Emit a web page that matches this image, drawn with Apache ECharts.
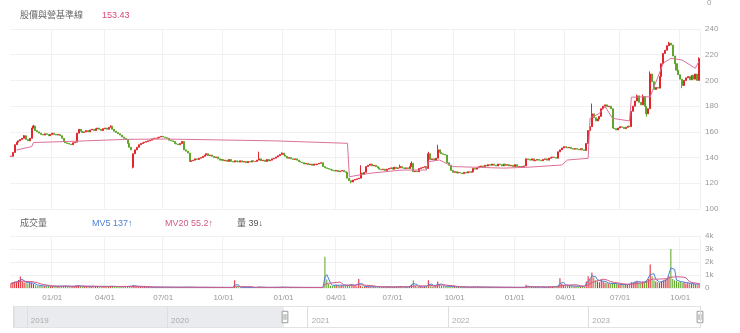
<!DOCTYPE html>
<html>
<head>
<meta charset="utf-8">
<script src="https://cdn.jsdelivr.net/npm/echarts@6/dist/echarts.min.js"></script>
<style>
html,body{margin:0;padding:0;background:#fff;}
#c{width:740px;height:333px;}
</style>
</head>
<body>
<div id="c"></div>
<script>
// ---- calendar (Taiwan exchange holidays in range) ----
const rangeStart = '2020-11-02';
const rangeEnd = '2023-11-02';
const holidays = [
  '2021-01-01','2021-02-08','2021-02-09','2021-02-10','2021-02-11','2021-02-12','2021-02-15','2021-02-16',
  '2021-03-01','2021-04-02','2021-04-05','2021-06-14','2021-09-20','2021-09-21','2021-10-11','2021-12-31',
  '2022-01-27','2022-01-28','2022-01-31','2022-02-01','2022-02-02','2022-02-03','2022-02-04',
  '2022-02-28','2022-04-04','2022-04-05','2022-05-02','2022-06-03','2022-09-09','2022-10-10',
  '2023-01-02','2023-01-18','2023-01-19','2023-01-20','2023-01-23','2023-01-24','2023-01-25','2023-01-26','2023-01-27',
  '2023-02-27','2023-02-28','2023-04-03','2023-04-04','2023-04-05','2023-05-01','2023-06-22','2023-06-23',
  '2023-09-29','2023-10-09','2023-10-10'
];

// one candle per two trading days
const closes = [
  141,144,150,152,153,154,155,157,154,153,
  155,163,164.5,161,160,159,158,157.5,158.5,158,
  157,158,159,158,157.5,158,157,155,152.5,151.5,
  151,150.5,150,151.5,152,159,162,160.5,159.5,160,
  161,160,161.5,162,161,162.5,163,162,161,162.5,
  163,162,163.5,164.5,162,160.5,159.5,158.5,157.5,156,
  155,154,151,148,146,143,146,148,150,151,
  151.5,152,152.5,153,153.5,154.5,155,155,155.5,156,
  156.5,156,155.5,155,153.5,153,152.5,151,150.5,150,
  151,152.5,146,145,143.5,137,137.5,138,139,138.5,
  139.5,140,141,142,143,141.5,142,141,140,140.5,
  139,138,138.5,137.5,138,137,138.5,137,136.5,137.5,
  137,136.5,137.5,136.5,137,136,137,136.5,137.5,137,
  137,138,139,137.5,138,137,138.5,137.5,138,139,
  139.5,140.5,141.5,142.5,143.5,142,141,139.5,140,139,
  138.5,139,138,137,136.5,136,135,135.5,134.5,135,
  134,135,134.5,135,135.5,136,133,132,131.5,131,
  130.5,130,129.5,130,129,129.5,130,129,128.5,124,
  122,121,122.5,123,123.5,124,128,127,128.5,133,
  134,135,133.5,134,133,132,131,130.5,131,130,
  131,131.5,132,131,132.5,131.5,132,133,132,131.5,
  132,131.5,133,135.5,129,129.5,129,131.5,132,132.5,
  133,131.5,143,138.5,139,138,139.5,146,144,143,
  142.5,142,136,134,130,128.5,129,128,128.5,128,
  127.5,128.5,128,129,128.5,129,131.5,131,132,133,
  133.5,133,134,133.5,134.5,134,135,134,133.5,135,
  134.5,133.5,135,134,134.5,133.5,134,133,134.5,133,
  133,132.5,133,133.5,139,138.5,138,139,137.5,138,
  138.5,138,137.5,138.5,139,138,139.5,140,140.5,140,
  139.5,144.5,146,147.5,148.5,148,147.5,148,147,146.5,
  147,146.5,146,147,146,145.5,151,161,164,174,
  171,168.5,170,172,178,180,181,179.5,180,178,
  163,162.5,161.5,163,164,163.5,162.5,163.5,164.5,164,
  176,180,184,188,183,181,187.5,180,174,178,
  205,199,193,194.5,194,203,213,221,223.5,227,
  229,227.5,219,213,208,204.5,201,196,200,202,
  203,200.5,204,201,205,200,217
];
// candles whose open is not the previous close: [index, open]
const openOverrides = [[65,132.5]];
const wickHighs = [[7,157.5],[12,165.5],[53,165],[132,144.6],[144,144],[186,134],[207,134.5],[213,137],
  [222,144.5],[227,150],[309,182],[333,189],[336,189],[340,207],[350,230],[366,218]];
const wickLows = [[65,131.6],[181,120],[338,171.8],[357,194]];

const volumes = [
  350,420,500,460,620,880,520,430,380,330,
  450,400,320,220,180,150,200,130,160,140,
  170,120,150,110,140,160,120,130,180,150,
  140,120,110,130,150,210,180,130,120,150,
  110,130,120,150,100,140,120,110,130,100,
  120,140,110,150,130,100,120,110,90,130,
  110,100,140,160,130,230,140,110,100,90,
  80,70,90,75,60,80,70,65,80,60,
  70,65,55,70,60,50,65,55,60,50,
  55,60,70,60,55,80,60,50,55,45,
  50,55,45,60,50,45,55,40,50,45,
  40,50,45,55,40,45,50,40,45,600,
  90,50,45,40,50,45,40,50,45,40,
  50,45,110,50,45,40,50,45,40,50,
  55,60,50,70,80,55,50,45,50,40,
  45,40,50,45,40,45,50,40,45,40,
  45,50,40,45,40,55,50,2400,650,300,
  180,150,200,260,220,180,240,200,150,260,
  220,280,200,150,120,700,150,110,100,120,
  100,90,110,100,80,90,100,85,80,90,
  80,90,75,85,80,90,85,150,80,75,
  80,70,150,250,600,150,100,90,80,85,
  90,100,600,180,120,130,150,500,250,180,
  150,120,130,140,110,100,90,80,85,75,
  70,80,75,70,65,80,100,85,70,75,
  70,65,60,70,65,55,60,65,55,60,
  55,50,60,55,50,55,50,45,55,50,
  45,50,55,50,250,120,90,80,70,80,
  70,75,65,70,80,70,90,100,110,100,
  100,180,750,300,250,200,180,170,160,150,
  140,150,130,120,130,120,500,900,700,1200,
  800,600,500,450,650,500,400,380,350,300,
  400,350,300,280,250,300,260,240,250,300,
  450,400,500,550,420,380,500,450,600,700,
  1800,900,600,500,450,400,500,600,650,700,
  900,3000,700,600,550,450,500,400,450,350,
  400,350,300,320,280,250,380
];

// baseline (step line) anchor points: [candle index, value]
const baselineAnchors = [
  [3,145.9],[11,148.5],[12,151.7],[30,152.5],[62,154.2],[83,154.4],[140,153],[179,151.1],
  [180,125.1],[191,127.8],[208,130.3],[221,130.3],[222,136.8],[228,138.1],[235,133],[262,131.8],
  [274,132.4],[293,134.2],[296,138.1],[307,139.4],[308,170.5],[313,174.4],[316,179.7],[320,170.5],
  [329,168.5],[330,187],[340,187.3],[347,213.5],[351,217.2],[357,215.9],[364,209.4],[365,208],[366,215]
];

// header texts
const priceTitle = '股價與營基準線';
const priceReadout = '153.43';
const volTitle = '成交量';
const mv5Text = 'MV5 137↑';
const mv20Text = 'MV20 55.2↑';
const volText = '量 39↓';

// slider (overview) range
const overviewMin = '2018-11-26';
const overviewMax = '2023-10-19';
const zoomStartPct = 39.3;

// ---- build ----
function fmt(d){return d.toISOString().slice(0,10);}
const holSet = new Set(holidays);
const tradingDays = [];
for (let d = new Date(rangeStart+'T00:00:00Z'); d <= new Date(rangeEnd+'T00:00:00Z'); d.setUTCDate(d.getUTCDate()+1)) {
  const wd = d.getUTCDay();
  const s = fmt(d);
  if (wd !== 0 && wd !== 6 && !holSet.has(s)) tradingDays.push(s);
}
const categories = tradingDays.filter((d,i)=> i % 2 === 0).slice(0, closes.length);

const hiMap = new Map(wickHighs), loMap = new Map(wickLows), opMap = new Map(openOverrides);
const ohlc = closes.map((c,i)=>{
  const o = opMap.has(i) ? opMap.get(i) : (i === 0 ? c : closes[i-1]);
  const lo = loMap.has(i) ? loMap.get(i) : Math.min(o,c);
  const hi = hiMap.has(i) ? hiMap.get(i) : Math.max(o,c);
  return [o, c, lo, hi];
});
const UP = '#e2262e', DOWN = '#5fa62b';
const volData = volumes.map((v,i)=>({value:v, itemStyle:{color: ohlc[i][1] >= ohlc[i][0] ? UP : DOWN}}));
function ma(arr,n){return arr.map((v,i)=>{const s=Math.max(0,i-n+1);let t=0;for(let j=s;j<=i;j++)t+=arr[j];return t/(i-s+1);});}
const mv5 = ma(volumes,3);   // ~5 trading days at 2-day sampling
const mv20 = ma(volumes,10); // ~20 trading days

const baseline = new Array(categories.length).fill(null);
baselineAnchors.forEach(([k,v])=>{ if (k < baseline.length) baseline[k] = v; });

function q(s){return (+s.slice(0,4))*4 + Math.floor((+s.slice(5,7)-1)/3);}
const isQStart = categories.map((s,i)=> i>0 && q(s) !== q(categories[i-1]));
const qInterval = (idx)=> !!isQStart[idx];

const FONT = "'Liberation Sans','Noto Sans CJK TC',sans-serif";
const LBL = '#999';
const SPLIT = '#f1f1f1';

function t(text,left,top,color,size){
  return {text, left, top, padding:0, textStyle:{color, fontSize:size||9, fontWeight:'normal', fontFamily:FONT}};
}

const chart = echarts.init(document.getElementById('c'), null, {renderer:'canvas'});
chart.setOption({
  animation:false,
  backgroundColor:'#fff',
  title:[
    t(priceTitle,20,11,'#666'),
    t(priceReadout,102,11,'#d4487a'),
    t(volTitle,20,219,'#666'),
    t(mv5Text,92,219,'#4d7fd6'),
    t(mv20Text,165,219,'#d45a86'),
    t(volText,237,219,'#555'),
    t('0',707,-1,LBL,8)
  ],
  grid:[
    {left:10,right:40,top:29,height:180},
    {left:10,right:40,top:236,height:52},
    {left:13,right:40,top:306,height:22},
    {left:-200,top:-200,width:10,height:10}
  ],
  xAxis:[
    {type:'category',gridIndex:0,data:categories,boundaryGap:true,
      axisLine:{show:false},axisTick:{show:false},axisLabel:{show:false},
      splitLine:{show:true,interval:qInterval,lineStyle:{color:SPLIT}}},
    {type:'category',gridIndex:1,data:categories,boundaryGap:true,
      axisLine:{show:false},axisTick:{show:false},
      axisLabel:{show:true,interval:qInterval,fontSize:8,color:LBL,fontFamily:FONT,margin:6,
        formatter:(v)=> v.slice(5,7)+'/01'},
      splitLine:{show:true,interval:qInterval,lineStyle:{color:SPLIT}}},
    {type:'time',gridIndex:2,min:overviewMin,max:overviewMax,z:10,
      minInterval:365*24*3600*1000, maxInterval:366*24*3600*1000,
      axisLine:{show:false},axisTick:{show:false},
      axisLabel:{inside:true,align:'left',margin:3,padding:[0,0,0,4],fontSize:8,color:'#aaa',fontFamily:FONT,
        formatter:(v)=> String(new Date(v).getFullYear())},
      splitLine:{show:true,lineStyle:{color:'#dedede'}}},
    {type:'value',gridIndex:3,min:0,max:100,show:false}
  ],
  yAxis:[
    {type:'value',gridIndex:0,position:'right',min:100,max:240,interval:20,
      axisLine:{show:false},axisTick:{show:false},
      axisLabel:{fontSize:8,color:LBL,fontFamily:FONT,margin:5},
      splitLine:{lineStyle:{color:SPLIT}}},
    {type:'value',gridIndex:1,position:'right',min:0,max:4000,interval:1000,
      axisLine:{show:false},axisTick:{show:false},
      axisLabel:{fontSize:8,color:LBL,fontFamily:FONT,margin:5,formatter:(v)=> v===0?'0':(v/1000)+'k'},
      splitLine:{lineStyle:{color:SPLIT}}},
    {type:'value',gridIndex:2,show:false},
    {type:'value',gridIndex:3,show:false}
  ],
  dataZoom:[{
    type:'slider', xAxisIndex:3, filterMode:'none', start:zoomStartPct, end:100,
    left:13, right:40, top:306, height:22,
    backgroundColor:'#e9ebee', fillerColor:'#ffffff', borderColor:'#e3e3e3',
    showDataShadow:false, showDetail:false, brushSelect:false, moveHandleSize:0,
    handleIcon:'path://M0,0H6V12H0Z M2,3V9 M4,3V9',
    handleSize:'52%',
    handleStyle:{color:'#fff',borderColor:'#9a9a9a',borderWidth:1},
    zoomLock:true
  }],
  series:[
    {type:'candlestick',xAxisIndex:0,yAxisIndex:0,data:ohlc,barWidth:'80%',
      itemStyle:{color:UP,color0:DOWN,borderColor:UP,borderColor0:DOWN,borderWidth:1}},
    {type:'line',xAxisIndex:0,yAxisIndex:0,data:baseline,connectNulls:true,symbol:'none',
      lineStyle:{color:'#db7299',width:1},z:3},
    {type:'bar',xAxisIndex:1,yAxisIndex:1,data:volData,barWidth:'55%'},
    {type:'line',xAxisIndex:1,yAxisIndex:1,data:mv5,symbol:'none',lineStyle:{color:'#4d7fd6',width:1}},
    {type:'line',xAxisIndex:1,yAxisIndex:1,data:mv20,symbol:'none',lineStyle:{color:'#d45a86',width:1}},
    {type:'line',xAxisIndex:3,yAxisIndex:3,data:[[0,0],[100,0]],symbol:'none',lineStyle:{opacity:0},silent:true}
  ]
});
</script>
</body>
</html>
